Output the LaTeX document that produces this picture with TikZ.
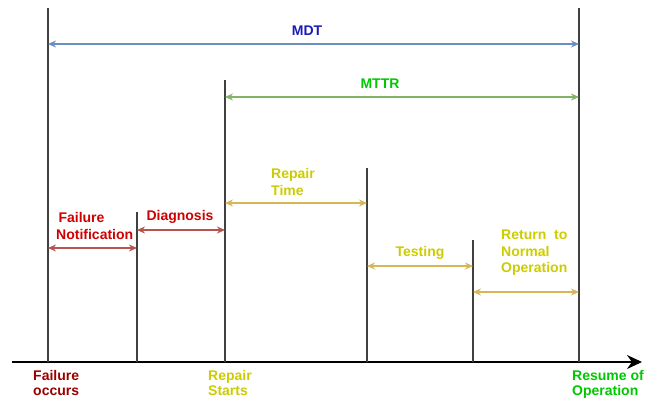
\documentclass[tikz,border=0pt]{standalone}
\usepackage{fontspec}
\setmainfont{Liberation Sans}
\usetikzlibrary{arrows,arrows.meta,positioning}
\definecolor{mdtline}{HTML}{6C8EBF}
\definecolor{mdttext}{HTML}{1A1AB8}
\definecolor{mttrline}{HTML}{82B366}
\definecolor{mttrtext}{HTML}{00C800}
\definecolor{repline}{HTML}{D6B656}
\definecolor{reptext}{HTML}{CCCC00}
\definecolor{failline}{HTML}{B85450}
\definecolor{failtext}{HTML}{D00000}
\definecolor{occtext}{HTML}{9A0000}
\tikzstyle{tick} = [draw=black!75, line width=1.1pt]
\tikzstyle{axis} = [draw=black, line width=1.2pt, -{Stealth[length=15pt,width=14pt]}]
\tikzstyle{span} = [<->, >={Stealth[length=8pt,width=7pt]}, line width=1.3pt]
\tikzstyle{lbl} = [font=\bfseries\fontsize{14}{16.5}\selectfont, inner sep=0pt, align=left]
\tikzstyle{foot} = [lbl, anchor=north west, font=\bfseries\fontsize{14}{15}\selectfont]

\begin{document}
\begin{tikzpicture}[x=1pt,y=-1pt]
\useasboundingbox (0,0) rectangle (652,397);

% time axis
\coordinate (origin) at (12,362);
\coordinate (tip) at (642,362);
\draw [axis] (origin) -- (tip);

% event markers
\coordinate (t0) at (48,8);    \coordinate (b0) at (48,362);
\coordinate (t1) at (137,212); \coordinate (b1) at (137,362);
\coordinate (t2) at (225,80);  \coordinate (b2) at (225,362);
\coordinate (t3) at (367,168); \coordinate (b3) at (367,362);
\coordinate (t4) at (473,240); \coordinate (b4) at (473,362);
\coordinate (t5) at (579,8);   \coordinate (b5) at (579,362);
\foreach \i in {0,...,5}
  \draw [tick] (t\i) -- (b\i);

% spans
\coordinate (mdtL) at (48,44);   \coordinate (mdtR) at (579,44);
\coordinate (mttrL) at (225,97); \coordinate (mttrR) at (579,97);
\coordinate (repL) at (225,203); \coordinate (repR) at (367,203);
\coordinate (notL) at (48,248);  \coordinate (notR) at (137,248);
\coordinate (diaL) at (137,230); \coordinate (diaR) at (225,230);
\coordinate (tstL) at (367,266); \coordinate (tstR) at (473,266);
\coordinate (retL) at (473,292); \coordinate (retR) at (579,292);

\draw [span, mdtline] (mdtL) -- (mdtR);
\draw [span, mttrline] (mttrL) -- (mttrR);
\draw [span, repline] (repL) -- (repR);
\draw [span, failline] (notL) -- (notR);
\draw [span, failline] (diaL) -- (diaR);
\draw [span, repline] (tstL) -- (tstR);
\draw [span, repline] (retL) -- (retR);

% labels
\node (mdt) [lbl, text=mdttext] at (307,31) {MDT};
\node (mttr) [lbl, text=mttrtext] at (380,84) {MTTR};
\node (reptime) [lbl, text=reptext, anchor=west] at (271,182) {Repair\\Time};
\node (notif) [lbl, text=failtext, anchor=west] at (56,226) {\,Failure\\Notification};
\node (diag) [lbl, text=failtext] at (180,217) {Diagnosis};
\node (test) [lbl, text=reptext] at (420,253) {Testing};
\node (ret) [lbl, text=reptext, anchor=west] at (501,253) {Return~~to\\Normal\\Operation};

\node (occurs) [foot, text=occtext] at (33,370) {Failure\\occurs};
\node (starts) [foot, text=reptext] at (208,370) {Repair\\Starts};
\node (resume) [foot, text=mttrtext] at (572,370) {Resume of\\Operation};

\end{tikzpicture}
\end{document}
